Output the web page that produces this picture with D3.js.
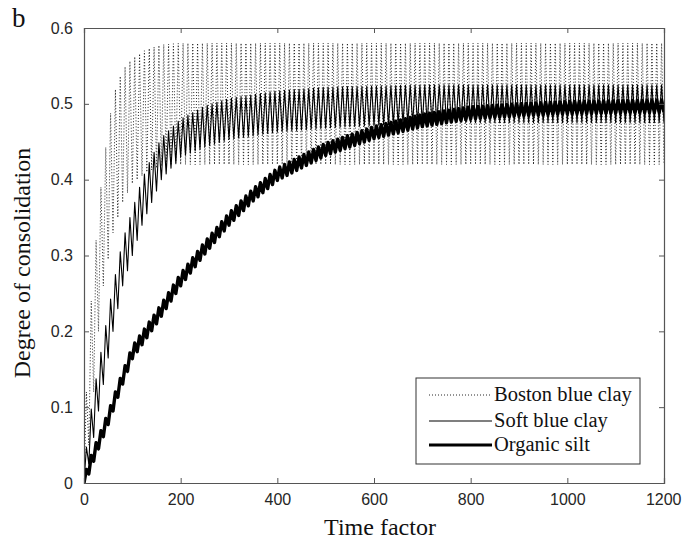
<!DOCTYPE html>
<html><head><meta charset="utf-8">
<script src="https://cdn.jsdelivr.net/npm/d3@7/dist/d3.min.js"></script>
<style>html,body{margin:0;padding:0;background:#fff;}svg{display:block;}</style>
</head><body>
<script>
// ---- data ----
const xTicks = [0, 200, 400, 600, 800, 1000, 1200];
const yTicks = [0, 0.1, 0.2, 0.3, 0.4, 0.5, 0.6];
const seriesNames = ["Boston blue clay", "Soft blue clay", "Organic silt"];
const cycle = 10; // oscillation period (time factor units)

// Boston blue clay: upper / lower envelope of the oscillation
const bostonT  = [0, 5, 10, 20, 30, 40, 60, 80, 100, 130, 160, 200, 1200];
const bostonHi = [0.0, 0.12, 0.2, 0.28, 0.36, 0.42, 0.51, 0.545, 0.56, 0.572, 0.578, 0.58, 0.58];
const bostonLo = [0.0, 0.02, 0.05, 0.12, 0.2, 0.26, 0.33, 0.37, 0.395, 0.41, 0.418, 0.42, 0.42];

// Soft blue clay
const softT  = [0, 10, 20, 40, 60, 80, 100, 120, 140, 160, 200, 250, 300, 400, 500, 700, 1200];
const softHi = [0.02, 0.075, 0.12, 0.19, 0.26, 0.32, 0.36, 0.40, 0.43, 0.455, 0.48, 0.497, 0.507, 0.517, 0.522, 0.525, 0.525];
const softLo = [0.0, 0.025, 0.06, 0.13, 0.2, 0.26, 0.30, 0.34, 0.37, 0.40, 0.43, 0.443, 0.453, 0.463, 0.468, 0.475, 0.475];

// Organic silt
const siltT  = [0, 10, 25, 50, 75, 100, 150, 200, 250, 300, 350, 400, 500, 600, 700, 800, 900, 1000, 1200];
const siltHi = [0.008, 0.028, 0.053, 0.093, 0.138, 0.18, 0.226, 0.276, 0.318, 0.356, 0.388, 0.415, 0.448, 0.47, 0.486, 0.496, 0.5, 0.503, 0.505];
const siltLo = [0.0, 0.012, 0.037, 0.077, 0.122, 0.164, 0.21, 0.26, 0.302, 0.34, 0.372, 0.399, 0.432, 0.454, 0.47, 0.48, 0.484, 0.487, 0.489];

// ---- layout ----
const W = 682, H = 544;
const m = {left: 84, right: 18, top: 28, bottom: 61};
const pw = W - m.left - m.right, ph = H - m.top - m.bottom;

const svg = d3.select("body").append("svg").attr("width", W).attr("height", H);
const x = d3.scaleLinear().domain([0, 1200]).range([m.left, m.left + pw]);
const y = d3.scaleLinear().domain([0, 0.6]).range([m.top + ph, m.top]);

svg.append("defs").append("clipPath").attr("id", "clip")
  .append("rect").attr("x", m.left).attr("y", m.top).attr("width", pw).attr("height", ph);

const series = [
  {name: seriesNames[0], T: bostonT, hi: bostonHi, lo: bostonLo, width: 0.9, dash: "1,2", color: "#111"},
  {name: seriesNames[1], T: softT, hi: softHi, lo: softLo, width: 1.1, dash: null, color: "#000"},
  {name: seriesNames[2], T: siltT, hi: siltHi, lo: siltLo, width: 3.4, dash: null, color: "#000"}
];

const g = svg.append("g").attr("clip-path", "url(#clip)");
series.forEach(s => {
  const hiS = d3.scaleLinear().domain(s.T).range(s.hi);
  const loS = d3.scaleLinear().domain(s.T).range(s.lo);
  const pts = d3.range(0, 1200 + 0.001, cycle / 2).map((t, i) => [t, i % 2 ? hiS(t) : loS(t)]);
  g.append("path").datum(pts)
    .attr("fill", "none").attr("stroke", s.color).attr("stroke-width", s.width)
    .attr("stroke-dasharray", s.dash).attr("stroke-linejoin", "round")
    .attr("d", d3.line().x(d => x(d[0])).y(d => y(d[1])));
});

// ---- axes (MATLAB style box, inward ticks) ----
const axColor = "#555";
const tickFont = "'Liberation Sans', Arial, sans-serif";
const xb = svg.append("g").attr("transform", `translate(0,${m.top + ph})`)
  .call(d3.axisBottom(x).tickValues(xTicks).tickSize(-5).tickPadding(11).tickFormat(d3.format("d")));
const xt = svg.append("g").attr("transform", `translate(0,${m.top})`)
  .call(d3.axisTop(x).tickValues(xTicks).tickSize(-5).tickFormat(""));
const yl = svg.append("g").attr("transform", `translate(${m.left},0)`)
  .call(d3.axisLeft(y).tickValues(yTicks).tickSize(-5).tickPadding(11).tickFormat(d => d === 0 ? "0" : d3.format(".1f")(d)));
const yr = svg.append("g").attr("transform", `translate(${m.left + pw},0)`)
  .call(d3.axisRight(y).tickValues(yTicks).tickSize(-5).tickFormat(""));
[xb, xt, yl, yr].forEach(a => {
  a.select(".domain").attr("stroke", axColor).attr("stroke-width", 1.2);
  a.selectAll(".tick line").attr("stroke", axColor);
  a.selectAll("text").attr("fill", "#262626").style("font-family", tickFont).style("font-size", "16px");
});
xb.selectAll(".tick").filter(d => d === 1200).select("text").attr("text-anchor", "end").attr("x", 17);
xb.selectAll(".tick").filter(d => d === 0 || d === 1200).select("line").remove();
xt.selectAll(".tick").filter(d => d === 0 || d === 1200).select("line").remove();
yl.selectAll(".tick").filter(d => d === 0 || d === 0.6).select("line").remove();
yr.selectAll(".tick").filter(d => d === 0 || d === 0.6).select("line").remove();

const serif = "'Liberation Serif', 'Times New Roman', serif";
svg.append("text").attr("x", 380).attr("y", 535).attr("text-anchor", "middle")
  .style("font-family", serif).style("font-size", "24px").attr("fill", "#111").text("Time factor");
svg.append("text").attr("transform", `translate(30,263) rotate(-90)`).attr("text-anchor", "middle")
  .style("font-family", serif).style("font-size", "24px").attr("fill", "#111").text("Degree of consolidation");
svg.append("text").attr("x", 12).attr("y", 27)
  .style("font-family", serif).style("font-size", "27px").attr("fill", "#111").text("b");

// ---- legend ----
const lg = svg.append("g");
lg.append("rect").attr("x", 416).attr("y", 378).attr("width", 224).attr("height", 86)
  .attr("fill", "#fff").attr("stroke", "#333").attr("stroke-width", 1);
series.forEach((s, i) => {
  const cy = [395, 421, 445][i];
  lg.append("line").attr("x1", 429).attr("x2", 492).attr("y1", cy).attr("y2", cy)
    .attr("stroke", s.color).attr("stroke-width", i === 2 ? 3 : s.width).attr("stroke-dasharray", s.dash);
  lg.append("text").attr("x", 494).attr("y", cy + 6)
    .style("font-family", serif).style("font-size", "20.5px").attr("fill", "#111").text(s.name);
});
</script>
</body></html>
